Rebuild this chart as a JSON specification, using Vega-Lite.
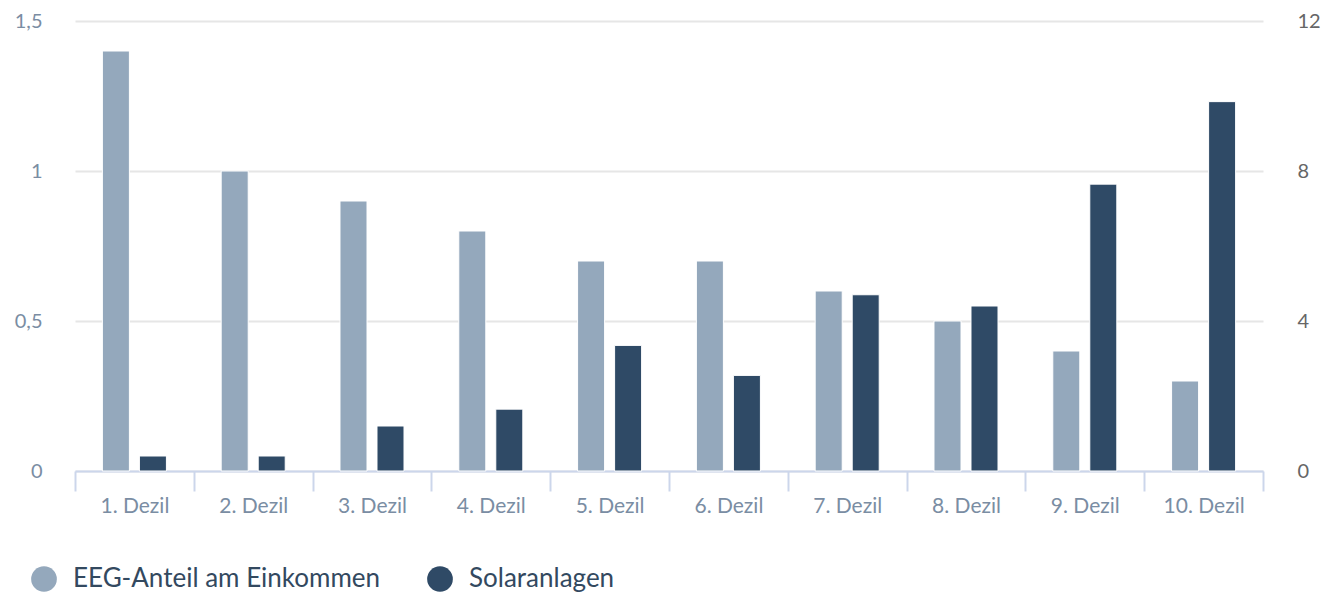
{
  "$schema": "https://vega.github.io/schema/vega-lite/v6.json",
  "width": 1188,
  "height": 450,
  "autosize": "none",
  "padding": {"left": 75, "top": 21, "right": 60, "bottom": 122},
  "config": {
    "view": {"stroke": null},
    "font": "Lato",
    "background": "white"
  },
  "data": {
    "values": [
      {"Dezil": "1. Dezil", "Serie": "EEG-Anteil am Einkommen", "Wert": 1.4},
      {"Dezil": "2. Dezil", "Serie": "EEG-Anteil am Einkommen", "Wert": 1.0},
      {"Dezil": "3. Dezil", "Serie": "EEG-Anteil am Einkommen", "Wert": 0.9},
      {"Dezil": "4. Dezil", "Serie": "EEG-Anteil am Einkommen", "Wert": 0.8},
      {"Dezil": "5. Dezil", "Serie": "EEG-Anteil am Einkommen", "Wert": 0.7},
      {"Dezil": "6. Dezil", "Serie": "EEG-Anteil am Einkommen", "Wert": 0.7},
      {"Dezil": "7. Dezil", "Serie": "EEG-Anteil am Einkommen", "Wert": 0.6},
      {"Dezil": "8. Dezil", "Serie": "EEG-Anteil am Einkommen", "Wert": 0.5},
      {"Dezil": "9. Dezil", "Serie": "EEG-Anteil am Einkommen", "Wert": 0.4},
      {"Dezil": "10. Dezil", "Serie": "EEG-Anteil am Einkommen", "Wert": 0.3},
      {"Dezil": "1. Dezil", "Serie": "Solaranlagen", "Wert": 0.4},
      {"Dezil": "2. Dezil", "Serie": "Solaranlagen", "Wert": 0.4},
      {"Dezil": "3. Dezil", "Serie": "Solaranlagen", "Wert": 1.2},
      {"Dezil": "4. Dezil", "Serie": "Solaranlagen", "Wert": 1.65},
      {"Dezil": "5. Dezil", "Serie": "Solaranlagen", "Wert": 3.35},
      {"Dezil": "6. Dezil", "Serie": "Solaranlagen", "Wert": 2.55},
      {"Dezil": "7. Dezil", "Serie": "Solaranlagen", "Wert": 4.7},
      {"Dezil": "8. Dezil", "Serie": "Solaranlagen", "Wert": 4.4},
      {"Dezil": "9. Dezil", "Serie": "Solaranlagen", "Wert": 7.65},
      {"Dezil": "10. Dezil", "Serie": "Solaranlagen", "Wert": 9.85}
    ]
  },
  "encoding": {
    "x": {
      "field": "Dezil",
      "type": "nominal",
      "sort": null,
      "scale": {"paddingInner": 0, "paddingOuter": 0},
      "axis": {
        "title": null,
        "labelAngle": 0,
        "tickBand": "extent",
        "domainColor": "#ccd6eb",
        "domainWidth": 2,
        "tickColor": "#ccd6eb",
        "tickWidth": 2,
        "tickSize": 20,
        "labelFontSize": 21,
        "labelColor": "#7a8da3",
        "labelPadding": 4,
        "grid": false
      }
    },
    "xOffset": {
      "field": "Serie",
      "type": "nominal",
      "scale": {"domain": ["EEG-Anteil am Einkommen", "Solaranlagen"], "paddingInner": 0.27, "paddingOuter": 0.74}
    },
    "color": {
      "field": "Serie",
      "type": "nominal",
      "scale": {"domain": ["EEG-Anteil am Einkommen", "Solaranlagen"], "range": ["#94a8bc", "#2f4a66"]},
      "legend": {
        "title": null,
        "orient": "none",
        "legendX": -44,
        "legendY": 545,
        "direction": "horizontal",
        "symbolType": "circle",
        "symbolSize": 660,
        "symbolStrokeWidth": 0,
        "labelFontSize": 26,
        "labelColor": "#33495f",
        "labelOffset": 16,
        "columnPadding": 46,
        "labelLimit": 500
      }
    }
  },
  "layer": [
    {
      "transform": [{"filter": "datum.Serie === 'EEG-Anteil am Einkommen'"}],
      "mark": {"type": "bar", "stroke": "white", "strokeWidth": 1},
      "encoding": {
        "y": {
          "field": "Wert",
          "type": "quantitative",
          "scale": {"domain": [0, 1.5], "nice": false},
          "axis": {
            "title": null,
            "values": [0, 0.5, 1, 1.5],
            "labelExpr": "replace(format(datum.value, '~g'), '.', ',')",
            "ticks": false,
            "domain": false,
            "grid": true,
            "gridColor": "#e6e6e6",
            "gridWidth": 2,
            "labelFontSize": 20,
            "labelColor": "#7a8da3",
            "labelPadding": 33
          }
        }
      }
    },
    {
      "transform": [{"filter": "datum.Serie === 'Solaranlagen'"}],
      "mark": {"type": "bar", "stroke": "white", "strokeWidth": 1},
      "encoding": {
        "y": {
          "field": "Wert",
          "type": "quantitative",
          "scale": {"domain": [0, 12], "nice": false},
          "axis": {
            "title": null,
            "orient": "right",
            "values": [0, 4, 8, 12],
            "ticks": false,
            "domain": false,
            "grid": false,
            "labelFontSize": 20,
            "labelColor": "#666666",
            "labelPadding": 34
          }
        }
      }
    }
  ],
  "resolve": {"scale": {"y": "independent"}}
}
